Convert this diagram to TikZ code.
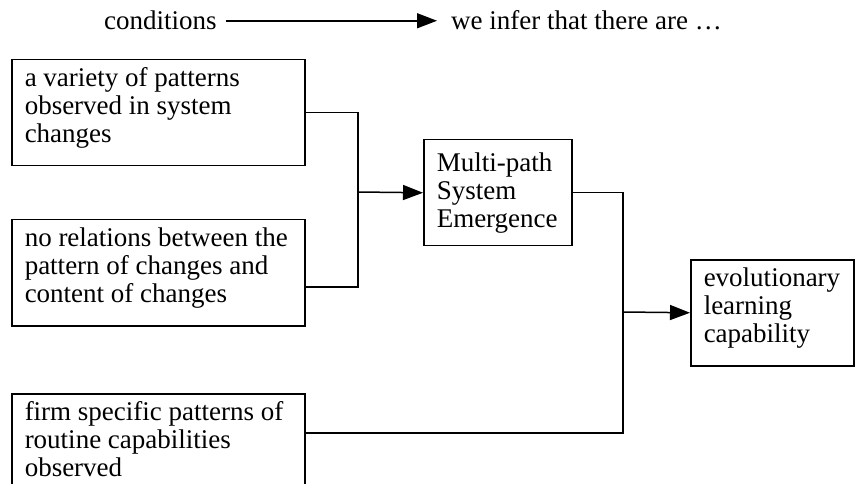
\documentclass[tikz,border=0pt]{standalone}
\usepackage{fontspec}
\setmainfont{Liberation Serif}
\usetikzlibrary{arrows.meta,positioning,calc}

\newcommand{\boxtxt}[3]{\parbox[c][90pt][#1]{#2}{\raggedright #3}}

\begin{document}
\begin{tikzpicture}[
    x=1pt, y=-1pt,
    font=\fontsize{27}{28}\selectfont,
    box/.style={draw, line width=1.5pt, anchor=north west, inner xsep=13pt, inner ysep=8pt},
    plain/.style={inner sep=0pt, anchor=base west},
    link/.style={line width=1.5pt},
    flow/.style={link, -{Triangle[length=20pt,width=15pt]}},
]
\useasboundingbox (0,0) rectangle (855,484);

% Legend
\node[plain] (cond) at (104,30) {conditions};
\node[plain] (infer) at (451,30) {we infer that there are \dots};
\draw[flow, shorten <=9pt, shorten >=14pt] (cond.east) -- (cond.east -| infer.west);

% Boxes
\node[box] (b1) at (11,59) {\boxtxt{t}{267pt}{a variety of patterns\\ observed in system\\ changes}};
\node[box] (b2) at (11,219) {\boxtxt{t}{267pt}{no relations between the\\ pattern of changes and\\ content of changes}};
\node[box] (b3) at (11,393) {\boxtxt{t}{267pt}{firm specific patterns of\\ routine capabilities\\ observed}};
\node[box] (mps) at (423,139) {\boxtxt{c}{122pt}{Multi-path\\ System\\ Emergence}};
\node[box] (elc) at (690,259) {\boxtxt{t}{137pt}{evolutionary\\ learning\\ capability}};

% Connectors
\coordinate (j1) at (358,192);
\coordinate (j2) at (623,312);
\draw[link] (b1.east) -| (j1) |- ([yshift=-14pt]b2.east);
\draw[flow] (j1) -- (mps.west);
\draw[link] (mps.east) -| (j2) |- ([yshift=14pt]b3.east);
\draw[flow] (j2) -- (elc.west);

\end{tikzpicture}
\end{document}
